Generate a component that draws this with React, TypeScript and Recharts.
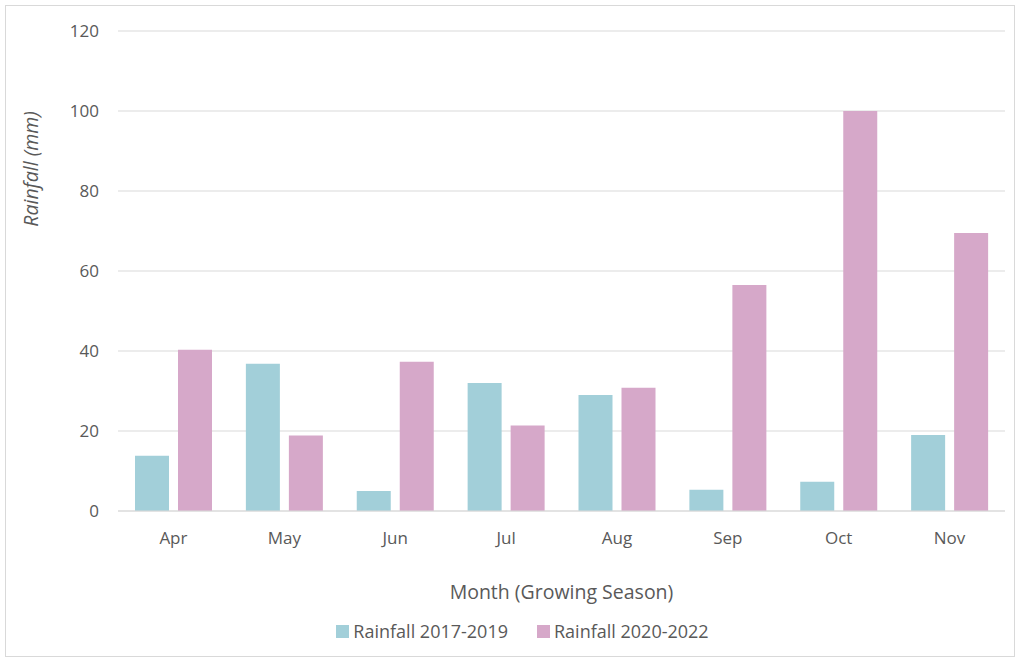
import { BarChart, Bar, XAxis, YAxis, CartesianGrid, Legend } from "recharts";

const MONTHS = ["Apr", "May", "Jun", "Jul", "Aug", "Sep", "Oct", "Nov"];
const RAIN_2017_2019 = [13.8, 36.8, 5.0, 32.0, 29.0, 5.3, 7.3, 19.0];
const RAIN_2020_2022 = [40.3, 18.9, 37.3, 21.4, 30.8, 56.5, 100.0, 69.5];
const Y_TICKS = [0, 20, 40, 60, 80, 100, 120];

const data = MONTHS.map((m, i) => ({
  month: m,
  a: RAIN_2017_2019[i],
  b: RAIN_2020_2022[i],
}));

const FONT = "'Open Sans', 'Noto Sans', sans-serif";
const TEXT = "#595959";
const GRID = "#D9D9D9";
const CYAN = "#A2CFD9";
const PINK = "#D6A8C9";

const YLabel = () => (
  <text
    x={30}
    y={169}
    transform="rotate(-90 30 169)"
    textAnchor="middle"
    dominantBaseline="central"
    fill={TEXT}
    fontSize={19.5}
    fontStyle="italic"
    fontFamily={FONT}
  >
    Rainfall (mm)
  </text>
);

const LegendBox = () => (
  <div style={{ display: "flex", justifyContent: "center", gap: 29, fontFamily: FONT, fontSize: 18, color: TEXT, marginLeft: 40 }}>
    {[
      { label: "Rainfall 2017-2019", color: CYAN },
      { label: "Rainfall 2020-2022", color: PINK },
    ].map((it) => (
      <div key={it.label} style={{ display: "flex", alignItems: "center", gap: 4 }}>
        <span style={{ width: 13, height: 13, background: it.color, display: "inline-block" }} />
        <span>{it.label}</span>
      </div>
    ))}
  </div>
);

export default function App() {
  return (
    <div style={{ position: "absolute", left: 0, top: 0, width: 1019, height: 661, background: "#fff" }}>
      <div style={{ position: "absolute", left: 5, top: 5, width: 1008, height: 650, border: `1px solid ${GRID}` }} />
      <BarChart
        width={1019}
        height={661}
        data={data}
        margin={{ top: 31, right: 14, left: 0, bottom: 2 }}
        barSize={34}
        barGap={9}
        style={{ position: "absolute", left: 0, top: 0 }}
      >
        <CartesianGrid vertical={false} stroke={GRID} strokeWidth={1.2} />
        <XAxis
          dataKey="month"
          height={108}
          tickLine={false}
          tickSize={0}
          tickMargin={21}
          axisLine={{ stroke: GRID, strokeWidth: 1.2 }}
          tick={{ fill: TEXT, fontSize: 17, fontFamily: FONT }}
          label={{ value: "Month (Growing Season)", position: "insideBottom", offset: 20, fill: TEXT, fontSize: 19.5, fontFamily: FONT }}
        />
        <YAxis
          width={118}
          domain={[0, 120]}
          ticks={Y_TICKS}
          tickLine={false}
          tickSize={0}
          tickMargin={19}
          axisLine={false}
          tick={{ fill: TEXT, fontSize: 17, fontFamily: FONT }}
          label={<YLabel />}
        />
        <Legend verticalAlign="bottom" height={40} content={<LegendBox />} />
        <Bar dataKey="a" name="Rainfall 2017-2019" fill={CYAN} isAnimationActive={false} />
        <Bar dataKey="b" name="Rainfall 2020-2022" fill={PINK} isAnimationActive={false} />
      </BarChart>
    </div>
  );
}
